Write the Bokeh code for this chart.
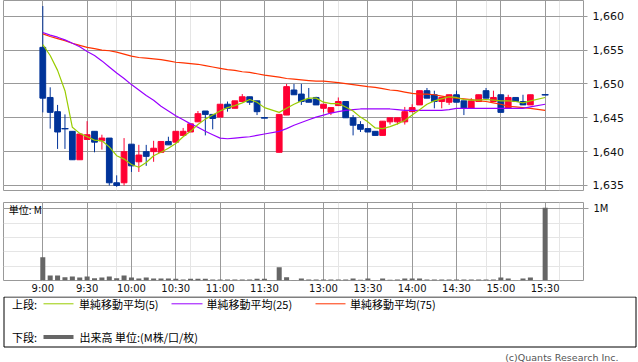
from bokeh.plotting import figure
from bokeh.models import ColumnDataSource, Range1d, LinearAxis, FixedTicker, Grid, Label
from bokeh.core.properties import value
from bokeh.embed import file_html
from bokeh.resources import INLINE

# ---------------- data ----------------
time_ticks = [0, 6, 12, 18, 24, 30, 38, 44, 50, 56, 62, 68]
time_labels = ["9:00", "9:30", "10:00", "10:30", "11:00", "11:30",
               "13:00", "13:30", "14:00", "14:30", "15:00", "15:30"]
price_ticks = [1635, 1640, 1645, 1650, 1655, 1660]
price_labels = ["1,635", "1,640", "1,645", "1,650", "1,655", "1,660"]
vol_ticks = [1]
vol_labels = ["1M"]

opens = [1655.4, 1648.0, 1645.9, 1643.4, 1643.0, 1638.8, 1641.8, 1643.0, 1641.6, 1642.0,
         1635.4, 1635.4, 1641.1, 1638.5, 1640.0, 1640.0, 1639.9, 1641.5, 1641.4, 1642.4,
         1642.9, 1644.4, 1646.0, 1645.5, 1645.1, 1647.0, 1646.4, 1647.4, 1648.1, 1647.5,
         1645.0, None, 1639.9, 1645.4, 1649.1, 1648.5, 1647.7, 1648.0, 1646.4, 1645.8,
         1646.8, 1647.4, 1645.0, 1644.0, 1643.4, 1643.0, 1642.4, 1644.4, 1644.4, 1644.4,
         1645.9, 1646.9, 1649.0, 1648.4, 1647.4, 1647.3, 1648.4, 1647.5, 1646.4, 1647.4,
         1649.0, 1647.4, 1648.4, 1646.4, 1648.0, 1647.4, 1646.9, None, 1648.4]
highs = [1661.5, 1649.5, 1646.9, 1645.5, 1643.0, 1642.6, 1644.5, 1643.0, 1642.5, 1642.0,
         1636.5, 1642.0, 1641.1, 1641.0, 1641.0, 1641.6, 1641.5, 1642.2, 1643.0, 1643.5,
         1644.1, 1646.0, 1646.0, 1645.5, 1647.0, 1647.4, 1647.5, 1648.5, 1648.1, 1647.5,
         1645.0, None, 1645.5, 1650.0, 1650.0, 1650.0, 1649.4, 1648.1, 1647.0, 1646.5,
         1648.0, 1647.4, 1645.4, 1644.5, 1643.4, 1643.0, 1644.5, 1645.0, 1645.0, 1646.6,
         1647.0, 1649.0, 1649.4, 1649.0, 1648.0, 1648.4, 1649.0, 1647.5, 1647.9, 1648.4,
         1649.4, 1649.0, 1648.4, 1648.4, 1648.0, 1648.4, 1648.4, None, 1648.4]
lows = [1645.8, 1643.4, 1640.4, 1640.4, 1638.8, 1638.8, 1641.8, 1639.9, 1640.3, 1635.0,
        1634.8, 1635.0, 1637.0, 1637.0, 1637.9, 1638.5, 1639.9, 1641.0, 1641.4, 1642.4,
        1642.9, 1644.4, 1642.4, 1643.3, 1645.1, 1645.9, 1646.4, 1647.4, 1646.9, 1645.4,
        1645.0, None, 1639.9, 1645.4, 1648.4, 1646.9, 1647.3, 1646.9, 1645.8, 1645.4,
        1646.8, 1645.0, 1642.4, 1642.9, 1642.9, 1642.4, 1642.4, 1644.0, 1644.0, 1644.0,
        1645.9, 1646.9, 1647.9, 1646.4, 1646.4, 1646.9, 1647.3, 1645.4, 1646.4, 1647.4,
        1647.9, 1647.4, 1645.8, 1646.4, 1647.4, 1646.9, 1646.9, None, 1648.4]
closes = [1647.9, 1645.8, 1642.9, 1643.4, 1638.8, 1642.6, 1642.5, 1641.4, 1642.0, 1635.4,
          1635.0, 1640.0, 1637.9, 1639.5, 1639.3, 1640.5, 1641.5, 1641.0, 1643.0, 1643.0,
          1644.1, 1645.6, 1645.5, 1644.9, 1647.0, 1646.4, 1647.5, 1648.1, 1647.3, 1645.9,
          1645.0, None, 1645.5, 1649.6, 1648.4, 1647.4, 1647.3, 1646.9, 1647.0, 1646.5,
          1647.4, 1645.0, 1643.9, 1643.3, 1642.9, 1642.4, 1644.5, 1645.0, 1645.0, 1645.9,
          1646.5, 1649.0, 1647.9, 1647.4, 1648.0, 1648.4, 1647.3, 1646.4, 1647.5, 1648.4,
          1647.9, 1648.0, 1645.8, 1648.0, 1647.4, 1646.9, 1648.4, None, 1648.4]
ma5 = [1655.8, 1654.2, 1652.0, 1649.0, 1643.6, 1642.7, 1642.2, 1641.7, 1641.6, 1640.7,
       1639.4, 1638.9, 1638.1, 1637.7, 1638.4, 1639.4, 1639.9, 1640.5, 1641.2, 1642.2,
       1643.0, 1644.0, 1644.8, 1645.4, 1646.0, 1646.5, 1646.8, 1647.2, 1647.7, 1647.3,
       1646.5, None, 1645.8, 1646.4, 1647.0, 1647.5, 1647.9, 1647.9, 1647.3, 1647.1,
       1647.1, 1646.6, 1646.0, 1645.1, 1644.4, 1643.5, 1643.4, 1643.7, 1644.1, 1644.6,
       1645.4, 1646.2, 1647.0, 1647.5, 1647.8, 1648.1, 1648.0, 1647.7, 1647.6, 1647.6,
       1647.7, 1647.6, 1647.5, 1647.5, 1647.4, 1647.2, 1647.5, None, 1648.0]
ma25 = [1657.6, 1657.2, 1656.9, 1656.5, 1656.0, 1655.5, 1654.8, 1654.2, 1653.4, 1652.5,
        1651.6, 1650.8, 1649.9, 1649.1, 1648.3, 1647.6, 1646.7, 1646.0, 1645.3, 1644.7,
        1644.1, 1643.6, 1643.0, 1642.5, 1642.0, 1641.9, 1642.0, 1642.1, 1642.2, 1642.4,
        1642.6, None, 1643.0, 1643.4, 1643.9, 1644.3, 1644.7, 1645.1, 1645.4, 1645.7,
        1645.9, 1646.1, 1646.2, 1646.3, 1646.3, 1646.3, 1646.3, 1646.3, 1646.2, 1646.1,
        1646.1, 1646.1, 1646.1, 1646.1, 1646.1, 1646.2, 1646.4, 1646.4, 1646.4, 1646.4,
        1646.4, 1646.4, 1646.4, 1646.4, 1646.4, 1646.4, 1646.6, None, 1647.0]
ma75 = [1657.4, 1657.0, 1656.7, 1656.4, 1656.0, 1655.7, 1655.4, 1655.2, 1655.0, 1654.9,
        1654.7, 1654.4, 1654.1, 1653.9, 1653.8, 1653.7, 1653.6, 1653.4, 1653.2, 1653.1,
        1653.0, 1652.9, 1652.7, 1652.5, 1652.3, 1652.1, 1652.0, 1651.8, 1651.7, 1651.5,
        1651.3, None, 1651.0, 1650.8, 1650.7, 1650.6, 1650.5, 1650.4, 1650.4, 1650.3,
        1650.2, 1650.05, 1649.9, 1649.75, 1649.6, 1649.5, 1649.3, 1649.1, 1649.0, 1648.8,
        1648.6, 1648.5, 1648.5, 1648.4, 1648.2, 1648.0, 1647.9, 1647.8, 1647.7, 1647.5,
        1647.4, 1647.2, 1647.0, 1646.7, 1646.6, 1646.5, 1646.4, None, 1646.1]
volume_m = [0.326, 0.07, 0.07, 0.047, 0.056, 0.042, 0.056, 0.033, 0.042, 0.056,
            0.033, 0.07, 0.042, 0.028, 0.042, 0.028, 0.028, 0.028, 0.023, 0.014,
            0.023, 0.023, 0.023, 0.014, 0.014, 0.014, 0.014, 0.014, 0.014, 0.023,
            0.023, None, 0.186, 0.047, 0.005, 0.028, 0.014, 0.014, 0.014, 0.014,
            0.014, 0.014, 0.028, 0.009, 0.028, 0.005, 0.028, 0.009, 0.014, 0.028,
            0.028, 0.028, 0.014, 0.014, 0.014, 0.014, 0.014, 0.014, 0.014, 0.014,
            0.014, 0.014, 0.042, 0.028, 0.005, 0.028, 0.042, None, 1.014]

# ---------------- styles ----------------
UP = "#ff0033"
DOWN = "#003399"
GRID = "#999999"
C5, C25, C75 = "#99cc00", "#9900ff", "#ff3300"
VOLC = "#666666"
LATIN = "DejaVu Sans"
CJK = "Noto Sans CJK JP"
X_RANGE = (-5.32, 73.19)


def place(top):
    return {"position": "absolute", "left": "0px", "top": f"{top}px"}


idx = [i for i, o in enumerate(opens) if o is not None]
candles = dict(
    x=idx,
    open=[opens[i] for i in idx],
    high=[highs[i] for i in idx],
    low=[lows[i] for i in idx],
    close=[closes[i] for i in idx],
)
candles["top"] = [max(o, c) for o, c in zip(candles["open"], candles["close"])]
candles["bottom"] = [min(o, c) for o, c in zip(candles["open"], candles["close"])]
candles["color"] = [UP if c > o else DOWN for o, c in zip(candles["open"], candles["close"])]
src = ColumnDataSource(candles)
doji_i = [k for k, (o, c) in enumerate(zip(candles["open"], candles["close"])) if o == c]
doji = ColumnDataSource(dict(x=[idx[k] for k in doji_i], y=[candles["close"][k] for k in doji_i],
                             color=[candles["color"][k] for k in doji_i]))

# ---------------- price panel ----------------
p1 = figure(width=638, height=196, x_range=Range1d(*X_RANGE), y_range=Range1d(1634.26, 1662.32),
            output_backend="svg", toolbar_location=None, x_axis_location=None, y_axis_location=None,
            min_border_left=3, min_border_right=55, min_border_top=0, min_border_bottom=6,
            outline_line_color=GRID, background_fill_color="white", border_fill_color="white",
            styles=place(0))
p1.add_layout(Grid(dimension=0, ticker=FixedTicker(ticks=time_ticks), grid_line_color=GRID))
p1.add_layout(Grid(dimension=1, ticker=FixedTicker(ticks=price_ticks), grid_line_color=GRID))
ya = LinearAxis(ticker=FixedTicker(ticks=price_ticks),
                major_label_overrides=dict(zip(price_ticks, price_labels)),
                major_tick_out=4, major_tick_in=0, major_tick_line_color=GRID,
                axis_line_color=None, minor_tick_line_color=None, major_label_standoff=5,
                major_label_text_font=LATIN, major_label_text_font_size="11px",
                major_label_text_color="#111111")
p1.add_layout(ya, "right")

p1.segment(x0="x", y0="low", x1="x", y1="high", line_color="color", line_width=1, source=src)
p1.vbar(x="x", width=0.78, top="top", bottom="bottom", fill_color="color", line_color="color",
        line_width=1, source=src)
p1.scatter(x="x", y="y", marker="dash", size=7, line_color="color", line_width=1.2, source=doji)

for series, col in ((ma75, C75), (ma25, C25), (ma5, C5)):
    xs = [i for i, v in enumerate(series) if v is not None]
    ys = [series[i] for i in xs]
    p1.line(xs, ys, line_color=col, line_width=1.2)

# ---------------- volume panel ----------------
p2 = figure(width=638, height=100, x_range=p1.x_range, y_range=Range1d(0, 1.088),
            output_backend="svg", toolbar_location=None, x_axis_location=None, y_axis_location=None,
            min_border_left=3, min_border_right=55, min_border_top=6, min_border_bottom=16,
            outline_line_color=GRID, background_fill_color="white", border_fill_color="white",
            styles=place(196))
p2.add_layout(Grid(dimension=0, ticker=FixedTicker(ticks=time_ticks), grid_line_color=GRID))
p2.add_layout(Grid(dimension=1, ticker=FixedTicker(ticks=vol_ticks), grid_line_color=GRID))
xa = LinearAxis(ticker=FixedTicker(ticks=time_ticks),
                major_label_overrides=dict(zip(time_ticks, time_labels)),
                major_tick_out=0, major_tick_in=0, major_tick_line_color=None,
                axis_line_color=None, minor_tick_line_color=None, major_label_standoff=2,
                major_label_text_font=LATIN, major_label_text_font_size="10px",
                major_label_text_color="#111111")
p2.add_layout(xa, "below")
va = LinearAxis(ticker=FixedTicker(ticks=vol_ticks),
                major_label_overrides=dict(zip(vol_ticks, vol_labels)),
                major_tick_out=5, major_tick_in=0, major_tick_line_color=GRID,
                axis_line_color=None, minor_tick_line_color=None, major_label_standoff=5,
                major_label_text_font=LATIN, major_label_text_font_size="10px",
                major_label_text_color="#111111")
p2.add_layout(va, "right")
vx = [i for i, v in enumerate(volume_m) if v is not None]
p2.vbar(x=vx, top=[volume_m[i] for i in vx], bottom=0, width=0.68,
        fill_color=VOLC, line_color=None)
p2.add_layout(Label(x=-4.6, y=0.985, text="単位: M", text_font=CJK, text_font_size="10px",
                    text_baseline="middle", text_align="left", text_color="#000000"))

# ---------------- legend panel ----------------
p3 = figure(width=638, height=66, x_range=Range1d(0, 638), y_range=Range1d(66, 0),
            output_backend="svg", toolbar_location=None, x_axis_location=None, y_axis_location=None,
            min_border=0, outline_line_color=None, background_fill_color="white",
            border_fill_color="white", styles=place(296))
p3.grid.visible = False
r1, r2 = 7.3, 40.5
p3.quad(left=[3.5], right=[635.5], top=[0.5], bottom=[50.5], fill_color=None,
        line_color="#000000", line_width=1)
p3.segment(x0=[43, 171, 315], y0=[r1] * 3, x1=[73, 202, 345], y1=[r1] * 3,
           line_color=[C5, C25, C75], line_width=1)
p3.segment(x0=[43], y0=[r2], x1=[73], y1=[r2], line_color=VOLC, line_width=4)
p3.text(x=[11.5, 78.5, 206, 349.5, 11.5, 79],
        y=[r1, r1, r1, r1, r2, r2],
        text=["上段:", "単純移動平均(5)", "単純移動平均(25)", "単純移動平均(75)",
              "下段:", "出来高 単位:(M株/口/枚)"],
        text_font=value(CJK), text_font_size="11px", text_baseline="middle",
        text_align="left", text_color="#000000")
p3.text(x=[618], y=[60.8], text=["(c)Quants Research Inc."], text_font=value(LATIN),
        text_font_size="9.5px", text_baseline="middle", text_align="right",
        text_color="#555555")

open("out.html", "w").write(file_html([p1, p2, p3], INLINE))
